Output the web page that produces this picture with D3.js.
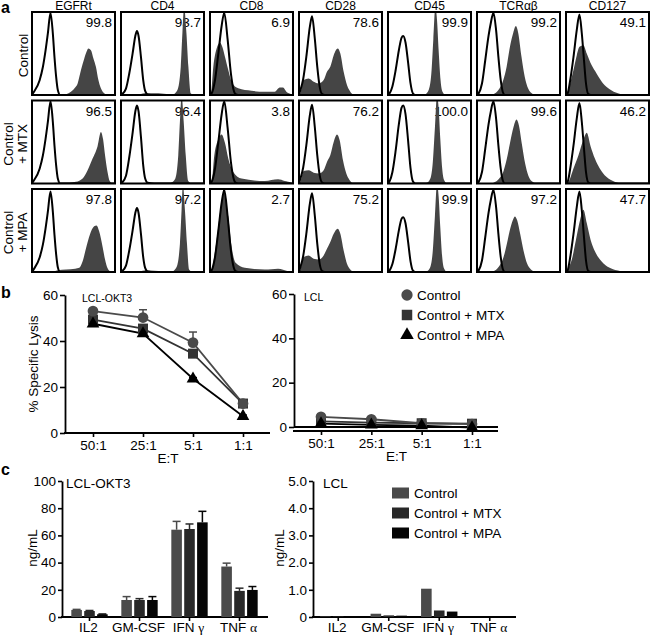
<!DOCTYPE html>
<html><head><meta charset="utf-8">
<script src="https://cdn.jsdelivr.net/npm/d3@7"></script>
<style>
body{margin:0;background:#fff}
svg{display:block}
text{font-family:'Liberation Sans',Arial,Helvetica,sans-serif;fill:#000}
</style>
</head><body>
<svg id="fig" width="650" height="635"></svg>
<script>
// ---------------- DATA ----------------
// Panel a: flow cytometry
const markers = ["EGFRt", "CD4", "CD8", "CD28", "CD45", "TCRαβ", "CD127"];
const conditionLines = [["Control"], ["Control", "+ MTX"], ["Control", "+ MPA"]];
const pctControl = [99.8, 93.7, 6.9, 78.6, 99.9, 99.2, 49.1];
const pctMTX = [96.5, 96.4, 3.8, 76.2, 100.0, 99.6, 46.2];
const pctMPA = [97.8, 97.2, 2.7, 75.2, 99.9, 97.2, 47.7];

// isotype control outline shapes (x: fluorescence 0-100, y: % of peak)
const isoEGFRt = [[0,0],[1.2,2],[9.2,18],[13.1,34],[16.3,54],[19.1,75],[22.3,100],[25.1,75],[27.1,46],[29.1,22],[31.1,6],[33.9,0],[100,0]];
const isoCD4 = [[0,0],[1.2,1],[6,10],[10,34],[14,65],[17.2,92],[19.2,100],[21.2,92],[24,60],[26.8,23],[29.2,6],[32,1],[40,0],[100,0]];
const isoCD8 = [[0,0],[2,2],[6,18],[10,50],[14,84],[17.2,100],[21.2,68],[25.2,26],[28,8],[30.8,1],[34,0],[100,0]];
const isoCD28 = [[0,0],[0.5,2],[5,20],[9,50],[13,86],[15.7,100],[19,72],[22,36],[25,10],[28,1],[31,0],[100,0]];
const isoCD45 = [[0,0],[2,3],[5.2,14],[9.2,42],[13.1,76],[16.3,97],[18.3,100],[21.1,89],[24.3,54],[27.1,20],[29.9,3],[33,0],[100,0]];
const isoTCR = [[0,0],[2,2],[6,14],[9.9,42],[13.9,72],[16.7,88],[19.8,100],[23,79],[25.8,46],[28.6,18],[31,4],[33.7,0],[100,0]];
const isoCD127 = [[0,0],[2,2],[5,18],[9,47],[13,81],[16.2,100],[19,77],[21.7,43],[24.1,14],[27,1],[30,0],[100,0]];
// isotype peak heights (% of box) per row
const isoPeakControl = [99, 77, 99, 95, 71, 99, 97];
const isoPeakMTX = [99, 94, 99, 95, 94, 99, 97];
const isoPeakMPA = [97, 77, 99, 95, 66, 99, 97];

// stained (filled) histograms, row Control
const fillCtlEGFRt = [[38,0],[41,1],[47,4],[52,9],[55,14],[59,30],[63,44],[65.7,52],[68,56],[71,54],[74,44],[77,34],[80,18],[83,8],[87,2],[91,0]];
const fillCtlCD4 = [[22,0],[28,2],[45,2],[58,1],[63,1],[68,6],[72,34],[74,75],[76,106],[78.8,75],[81.2,34],[84,2],[88,0]];
const fillCtlCD8 = [[0,0],[1.2,2],[4,34],[8,56],[12,63],[14.8,58],[18,46],[22,30],[26,16],[34,8],[50,5],[66,4],[78,4],[84,9],[88,9],[92,4],[98,1],[100,0]];
const fillCtlCD28 = [[0,0],[1.6,2],[5.6,18],[11.6,20],[17.7,16],[23.7,14],[29.7,18],[33.7,28],[37.7,34],[41.8,48],[46.6,56],[49.8,50],[53.8,28],[57.8,12],[61.8,4],[66,0]];
const fillCtlCD45 = [[40,0],[45,1],[49,6],[52.2,26],[54.6,67],[57,106],[59,91],[61,54],[63.3,18],[65.7,4],[69,0]];
const fillCtlTCR = [[15,0],[19.8,1],[25.8,6],[31.7,18],[35.7,34],[39.7,58],[43.7,75],[46.8,83],[49.6,75],[53.6,46],[57.5,22],[61.5,8],[67.5,1],[71,0]];
const fillCtlCD127 = [[0,0],[1,2],[5,14],[9,30],[13,48],[16.2,58],[21,60],[25,50],[30.8,36],[36.8,26],[44.7,14],[52.6,7],[62.5,2],[70,0]];
// row Control + MTX
const fillMtxEGFRt = [[20,0],[30,1],[45,1],[53,2],[61,6],[67,16],[73,30],[79,45],[83,62],[85.7,53],[88,34],[91,14],[93.6,3],[97,0]];
const fillMtxCD4 = [[22,0],[30,1],[50,1],[60,1],[65,5],[69,34],[71,75],[73,106],[75.5,75],[78,34],[81,3],[85,0]];
const fillMtxCD8 = [[0,0],[2,2],[5.2,34],[10,53],[14,59],[18,49],[22,30],[28,14],[38,6],[66,3],[82,5],[90,3],[98,1],[100,0]];
const fillMtxCD28 = [[0,0],[1.6,2],[5.6,15],[11.6,16],[17.7,13],[23.7,12],[29.7,16],[33.7,26],[37.7,34],[41.8,50],[45.8,59],[49,52],[53,28],[57,12],[61,4],[65,0]];
const fillMtxCD45 = [[42,0],[47,1],[51,6],[54,26],[56.5,67],[59,106],[61,91],[63,54],[65.3,18],[67.7,4],[71,0]];
const fillMtxTCR = [[15,0],[20,1],[26,5],[32,15],[36,30],[40,50],[44,68],[47.6,77],[50.5,70],[54,48],[58,24],[62,9],[67,2],[72,0]];
const fillMtxCD127 = [[0,0],[3,2],[9,18],[15,34],[21,53],[25,61],[29.6,45],[34.8,30],[40.7,18],[48.6,8],[58.5,2],[66,0]];
// row Control + MPA
const fillMpaEGFRt = [[25,0],[31,2],[41,3],[52,4],[57,5],[61,13],[65.7,31],[69.7,45],[74.9,55],[77.7,56],[80.9,49],[84.9,31],[88,15],[90.8,5],[95,0]];
const fillMpaCD4 = [[22,0],[30,2],[50,1],[62,1],[67,6],[71,34],[73,75],[74.5,106],[77,75],[79.5,34],[82,3],[86,0]];
const fillMpaCD8 = [[0,0],[2,3],[8,39],[13.2,79],[17.2,97],[22,67],[26,31],[30.8,11],[42,5],[66,3],[82,4],[94,1],[100,0]];
const fillMpaCD28 = [[0,0],[1.6,3],[5.6,18],[11.6,20],[17.7,16],[23.7,15],[29.7,20],[33.7,28],[37.7,36],[41.8,46],[46.6,52],[49.8,46],[53.8,26],[57.8,10],[61.8,3],[66,0]];
const fillMpaCD45 = [[42,0],[47,1],[51,6],[54,26],[56.5,67],[59,106],[61,91],[63,54],[65.3,18],[67.7,4],[71,0]];
const fillMpaTCR = [[15,0],[20,1],[26,6],[32,18],[36,34],[40,52],[43,62],[45.6,67],[48.5,62],[52,46],[56,26],[60,11],[65,3],[71,0]];
const fillMpaCD127 = [[0,0],[2,3],[7,15],[12,39],[17,63],[21,75],[25,59],[29.6,39],[34.8,25],[42.7,13],[52.6,5],[66,1],[72,0]];

// Panel b: % specific lysis
const etRatios = ["50:1", "25:1", "5:1", "1:1"];
const okt3Control = [53.0, 50.2, 39.3, 12.8];
const okt3ControlErr = [54.0, 53.6, 43.9, 13.6];
const okt3MTX = [49.3, 45.4, 34.5, 12.8];
const okt3MTXErr = [50.3, 46.6, 35.8, 13.4];
const okt3MPA = [47.5, 43.2, 23.6, 7.3];
const okt3MPAErr = [48.2, 43.8, 24.1, 7.8];
const lclControl = [4.6, 3.5, 1.7, 1.3];
const lclMTX = [2.5, 2.0, 1.7, 1.5];
const lclMPA = [1.5, 1.0, 0.6, -0.3];
const lysisTicks = [0, 20, 40, 60];

// Panel c: cytokines (ng/mL)
const cytokines = ["IL2", "GM-CSF", "IFNγ", "TNFα"];
const seriesNames = ["Control", "Control + MTX", "Control + MPA"];
const okt3CytoControl = [5.2, 12.5, 64.2, 37.1];
const okt3CytoControlErr = [5.6, 15.0, 70.3, 39.6];
const okt3CytoMTX = [4.4, 12.5, 64.7, 19.2];
const okt3CytoMTXErr = [4.8, 13.5, 68.4, 21.2];
const okt3CytoMPA = [2.0, 12.5, 69.6, 19.9];
const okt3CytoMPAErr = [2.2, 15.0, 77.7, 22.4];
const lclCytoControl = [0.02, 0.12, 1.04, 0];
const lclCytoMTX = [0.02, 0.06, 0.24, 0];
const lclCytoMPA = [0.02, 0.05, 0.20, 0];
const okt3Ticks = [0, 20, 40, 60, 80, 100];
const lclTicks = [0, 1, 2, 3, 4, 5];

// ---------------- DRAWING ----------------
const svg = d3.select("#fig");
const FS = 13.5;
const colControl = "#4a4a4a", colMTX = "#282828", colMPA = "#050505";

// ===== Panel a =====
const isoShapes = [isoEGFRt, isoCD4, isoCD8, isoCD28, isoCD45, isoTCR, isoCD127];
const isoPeaks = [isoPeakControl, isoPeakMTX, isoPeakMPA];
const pcts = [pctControl, pctMTX, pctMPA];
const fills = [
  [fillCtlEGFRt, fillCtlCD4, fillCtlCD8, fillCtlCD28, fillCtlCD45, fillCtlTCR, fillCtlCD127],
  [fillMtxEGFRt, fillMtxCD4, fillMtxCD8, fillMtxCD28, fillMtxCD45, fillMtxTCR, fillMtxCD127],
  [fillMpaEGFRt, fillMpaCD4, fillMpaCD8, fillMpaCD28, fillMpaCD45, fillMpaTCR, fillMpaCD127]
];
const colScale = d3.scalePoint().domain(markers).range([32, 566]);
const rowScale = d3.scalePoint().domain([0, 1, 2]).range([12, 189]);
const boxW = 83, boxH = 83;
const xA = d3.scaleLinear([0, 100], [0, boxW]);
const yA = d3.scaleLinear([0, 100], [boxH, 0]);
const areaA = d3.area().x(d => xA(d[0])).y0(boxH).y1(d => yA(d[1])).curve(d3.curveMonotoneX);
const lineA = d3.line().x(d => xA(d[0])).y(d => yA(d[1])).curve(d3.curveMonotoneX);

const gA = svg.append("g");
gA.append("text").attr("x", 1).attr("y", 13).attr("font-size", 16).attr("font-weight", "bold").text("a");
markers.forEach(m => {
  gA.append("text").attr("x", colScale(m) + boxW / 2).attr("y", 10)
    .attr("text-anchor", "middle").attr("font-size", 12).text(m);
});
// row labels
const rowLabelX = [[28], [13, 27], [13, 27]];
conditionLines.forEach((lines, r) => {
  const cy = rowScale(r) + boxH / 2 + 2;
  lines.forEach((t, i) => {
    gA.append("text").attr("transform", `translate(${rowLabelX[r][i]},${cy}) rotate(-90)`)
      .attr("text-anchor", "middle").attr("font-size", FS).text(t);
  });
});
[0, 1, 2].forEach(r => {
  markers.forEach((m, c) => {
    const g = gA.append("g").attr("transform", `translate(${colScale(m)},${rowScale(r)})`);
    const cid = `clip-${r}-${c}`;
    g.append("clipPath").attr("id", cid).append("rect").attr("width", boxW).attr("height", boxH);
    g.append("text").attr("x", boxW - 3).attr("y", 15).attr("text-anchor", "end")
      .attr("font-size", FS).text(pcts[r][c].toFixed(1));
    const inner = g.append("g").attr("clip-path", `url(#${cid})`);
    inner.append("path").datum(fills[r][c]).attr("d", areaA).attr("fill", "#454545");
    const peak = isoPeaks[r][c];
    inner.append("path").datum(isoShapes[c].map(d => [d[0], d[1] * peak / 100]))
      .attr("d", lineA).attr("fill", "none").attr("stroke", "#000").attr("stroke-width", 2);
    g.append("rect").attr("width", boxW).attr("height", boxH)
      .attr("fill", "none").attr("stroke", "#000").attr("stroke-width", 2);
  });
});

// ===== Panel b =====
svg.append("text").attr("x", 1).attr("y", 298).attr("font-size", 16).attr("font-weight", "bold").text("b");

function styleAxis(g) {
  g.selectAll("path.domain").attr("stroke", "#000").attr("stroke-width", 1.8);
  g.selectAll(".tick line").attr("stroke", "#000").attr("stroke-width", 1.6);
  g.selectAll(".tick text").attr("font-size", FS).attr("font-family", "'Liberation Sans',Arial,sans-serif").attr("fill", "#000");
}

function lysisChart(opt) {
  const g = svg.append("g");
  const x = d3.scalePoint().domain(etRatios).range(opt.xr);
  const y = d3.scaleLinear().domain([0, 60]).range(opt.yr);
  const ay = g.append("g").attr("transform", `translate(${opt.ax},0)`)
    .call(d3.axisLeft(y).tickValues(lysisTicks).tickSize(5).tickSizeOuter(0).tickPadding(2));
  styleAxis(ay);
  const ax = g.append("g").attr("transform", `translate(0,${opt.xAxisY})`)
    .call(d3.axisBottom(x).tickSize(4).tickPadding(3));
  ax.select("path.domain").remove();
  styleAxis(ax);
  g.append("line").attr("x1", opt.ax - 1).attr("x2", opt.xEnd).attr("y1", opt.xAxisY).attr("y2", opt.xAxisY)
    .attr("stroke", "#000").attr("stroke-width", 1.8);
  if (opt.zeroLine) {
    g.append("line").attr("x1", opt.ax).attr("x2", opt.xEnd).attr("y1", y(0)).attr("y2", y(0))
      .attr("stroke", "#000").attr("stroke-width", 1.8);
  }
  g.append("text").attr("x", opt.titleX).attr("y", opt.yr[1] + 7).attr("font-size", 10.5).text(opt.title);
  g.append("text").attr("x", (opt.xr[0] + opt.xr[1]) / 2).attr("y", opt.xAxisY + 30)
    .attr("text-anchor", "middle").attr("font-size", FS).text("E:T");
  if (opt.ylabel) {
    g.append("text").attr("transform", `translate(38,${(opt.yr[0] + opt.yr[1]) / 2}) rotate(-90)`)
      .attr("text-anchor", "middle").attr("font-size", FS).text(opt.ylabel);
  }
  const line = d3.line().x((d, i) => x(etRatios[i])).y(d => y(d));
  opt.series.forEach(s => {
    if (s.err) {
      s.err.forEach((e, i) => {
        const cx = x(etRatios[i]);
        g.append("line").attr("x1", cx).attr("x2", cx).attr("y1", y(s.vals[i])).attr("y2", y(e))
          .attr("stroke", s.color).attr("stroke-width", 1.5);
        g.append("line").attr("x1", cx - 4).attr("x2", cx + 4).attr("y1", y(e)).attr("y2", y(e))
          .attr("stroke", s.color).attr("stroke-width", 1.5);
      });
    }
  });
  opt.series.forEach(s => {
    g.append("path").datum(s.vals).attr("d", line).attr("fill", "none")
      .attr("stroke", s.color).attr("stroke-width", 1.8);
  });
  opt.series.forEach(s => {
    g.selectAll(null).data(s.vals).join("path")
      .attr("transform", (d, i) => `translate(${x(etRatios[i])},${y(d)})`)
      .attr("d", d3.symbol(s.shape, s.size)()).attr("fill", s.color);
  });
}

const symDefs = {
  control: {shape: d3.symbolCircle, size: 90, color: colControl},
  mtx: {shape: d3.symbolSquare, size: 100, color: "#333"},
  mpa: {shape: d3.symbolTriangle, size: 70, color: "#000"}
};

lysisChart({
  ax: 65, xr: [93, 243], yr: [433, 295], xAxisY: 433, xEnd: 270,
  title: "LCL-OKT3", titleX: 82, ylabel: "% Specific Lysis",
  series: [
    Object.assign({vals: okt3MTX, err: okt3MTXErr}, symDefs.mtx),
    Object.assign({vals: okt3Control, err: okt3ControlErr}, symDefs.control),
    Object.assign({vals: okt3MPA, err: okt3MPAErr}, symDefs.mpa)
  ]
});
lysisChart({
  ax: 294, xr: [321, 472], yr: [427, 294], xAxisY: 431, xEnd: 498, zeroLine: true,
  title: "LCL", titleX: 304,
  series: [
    Object.assign({vals: lclMTX}, symDefs.mtx),
    Object.assign({vals: lclControl}, symDefs.control),
    Object.assign({vals: lclMPA}, symDefs.mpa)
  ]
});
// legend b
const legB = svg.append("g");
[symDefs.control, symDefs.mtx, symDefs.mpa].forEach((s, i) => {
  const yy = 295 + i * 20;
  legB.append("path").attr("transform", `translate(407,${yy})`).attr("d", d3.symbol(s.shape, s.size + 10)()).attr("fill", s.color);
  legB.append("text").attr("x", 417).attr("y", yy + 5).attr("font-size", FS).text(seriesNames[i]);
});

// ===== Panel c =====
svg.append("text").attr("x", 1).attr("y", 475).attr("font-size", 16).attr("font-weight", "bold").text("c");
const barCols = [colControl, colMTX, colMPA];

function cytoChart(opt) {
  const g = svg.append("g");
  const x = d3.scaleBand().domain(cytokines).range(opt.xr);
  const xs = d3.scaleBand().domain([0, 1, 2]).range([-20.5, 20.5]).padding(0.18);
  const y = d3.scaleLinear().domain([0, opt.max]).range([617, 481]);
  const ay = g.append("g").attr("transform", `translate(${opt.ax},0)`)
    .call(d3.axisLeft(y).tickValues(opt.ticks).tickFormat(opt.fmt).tickSize(4).tickSizeOuter(0).tickPadding(2));
  styleAxis(ay);
  const ax = g.append("g").attr("transform", `translate(0,617)`)
    .call(d3.axisBottom(x).tickSize(4).tickFormat(""));
  ax.select("path.domain").remove();
  styleAxis(ax);
  g.append("line").attr("x1", opt.ax - 1).attr("x2", opt.xEnd).attr("y1", 617).attr("y2", 617)
    .attr("stroke", "#000").attr("stroke-width", 1.8);
  // category labels (Greek letters in serif)
  cytokines.forEach(c => {
    const t = g.append("text").attr("x", x(c) + x.bandwidth() / 2 - 1).attr("y", 632)
      .attr("text-anchor", "middle").attr("font-size", FS);
    const greek = c.match(/[γα]$/);
    if (greek) {
      t.append("tspan").text(c.slice(0, -1) + " ");
      t.append("tspan").attr("font-family", "'Liberation Serif','DejaVu Serif',serif").text(greek[0]);
    } else t.text(c);
  });
  g.append("text").attr("x", opt.titleX).attr("y", 488).attr("font-size", FS).text(opt.title);
  g.append("text").attr("transform", `translate(${opt.ylabX},548) rotate(-90)`)
    .attr("text-anchor", "middle").attr("font-size", FS).text("ng/mL");
  opt.series.forEach((s, si) => {
    s.vals.forEach((v, i) => {
      const bx = x(cytokines[i]) + x.bandwidth() / 2 + xs(si);
      g.append("rect").attr("x", bx).attr("width", xs.bandwidth())
        .attr("y", y(v)).attr("height", Math.max(0, y(0) - y(v)))
        .attr("fill", barCols[si]);
      if (s.err) {
        const cx = bx + xs.bandwidth() / 2;
        g.append("line").attr("x1", cx).attr("x2", cx).attr("y1", y(v)).attr("y2", y(s.err[i]))
          .attr("stroke", barCols[si]).attr("stroke-width", 1.5);
        g.append("line").attr("x1", cx - 4).attr("x2", cx + 4).attr("y1", y(s.err[i])).attr("y2", y(s.err[i]))
          .attr("stroke", barCols[si]).attr("stroke-width", 1.5);
      }
    });
  });
}

cytoChart({
  ax: 62, xr: [64.5, 264.5], xEnd: 268, max: 100, ticks: okt3Ticks, fmt: d3.format("d"),
  title: "LCL-OKT3", titleX: 66, ylabX: 37,
  series: [
    {vals: okt3CytoControl, err: okt3CytoControlErr},
    {vals: okt3CytoMTX, err: okt3CytoMTXErr},
    {vals: okt3CytoMPA, err: okt3CytoMPAErr}
  ]
});
cytoChart({
  ax: 313, xr: [313, 515], xEnd: 516, max: 5, ticks: lclTicks, fmt: d => d === 0 ? "0" : d3.format(".1f")(d),
  title: "LCL", titleX: 323, ylabX: 284,
  series: [
    {vals: lclCytoControl},
    {vals: lclCytoMTX},
    {vals: lclCytoMPA}
  ]
});
// legend c
const legC = svg.append("g");
seriesNames.forEach((n, i) => {
  const yy = 493 + i * 20;
  legC.append("rect").attr("x", 392).attr("y", yy - 5.5).attr("width", 17).attr("height", 11).attr("fill", barCols[i]);
  legC.append("text").attr("x", 414).attr("y", yy + 5).attr("font-size", FS).text(n);
});
</script>
</body></html>
